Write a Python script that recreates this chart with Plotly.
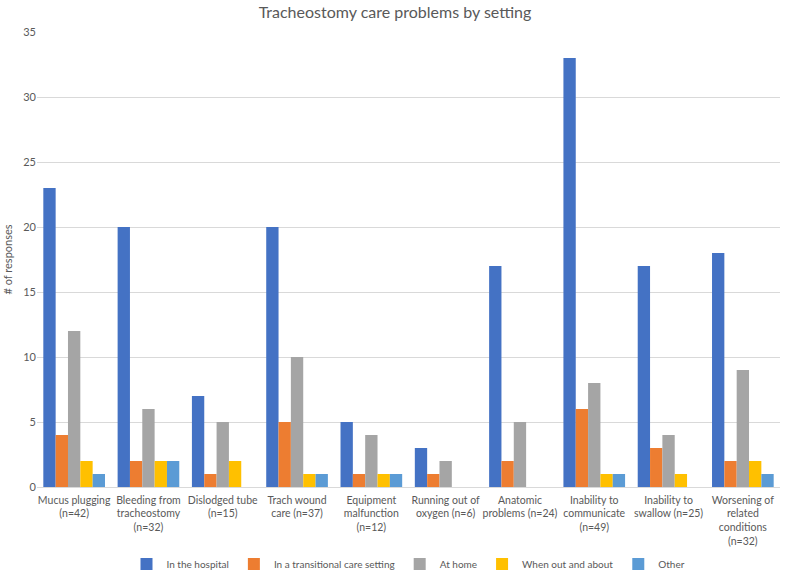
import plotly.graph_objects as go

categories = [
    "Mucus plugging<br>(n=42)",
    "Bleeding from<br>tracheostomy<br>(n=32)",
    "Dislodged tube<br>(n=15)",
    "Trach wound<br>care (n=37)",
    "Equipment<br>malfunction<br>(n=12)",
    "Running out of<br>oxygen (n=6)",
    "Anatomic<br>problems (n=24)",
    "Inability to<br>communicate<br>(n=49)",
    "Inability to<br>swallow (n=25)",
    "Worsening of<br>related<br>conditions<br>(n=32)",
]
in_hospital = [23, 20, 7, 20, 5, 3, 17, 33, 17, 18]
transitional = [4, 2, 1, 5, 1, 1, 2, 6, 3, 2]
at_home = [12, 6, 5, 10, 4, 2, 5, 8, 4, 9]
out_and_about = [2, 2, 2, 1, 1, 0, 0, 1, 1, 2]
other = [1, 2, 0, 1, 1, 0, 0, 1, 0, 1]

series = [
    ("In the hospital", in_hospital, "#4472C4"),
    ("In a transitional care setting", transitional, "#ED7D31"),
    ("At home", at_home, "#A5A5A5"),
    ("When out and about", out_and_about, "#FFC000"),
    ("Other", other, "#5B9BD5"),
]

fig = go.Figure()
for name, vals, color in series:
    fig.add_trace(go.Bar(x=categories, y=vals, name=name, marker_color=color,
                         marker_line_width=0))

font_family = "Lato, Open Sans, sans-serif"
fig.update_layout(
    width=790, height=571,
    barmode="group", bargap=0.17, bargroupgap=0,
    paper_bgcolor="white", plot_bgcolor="white",
    font=dict(family=font_family, size=10.5, color="#595959"),
    title=dict(text="Tracheostomy care problems by setting", x=0.5, xanchor="center",
               y=0.978, yanchor="middle", font=dict(size=16, color="#595959")),
    margin=dict(l=37, r=10, t=32, b=84, autoexpand=False),
    legend=dict(orientation="h", x=0.5, xanchor="center", y=-0.169, yanchor="middle",
                font=dict(size=10, color="#595959"), itemwidth=30, traceorder="normal"),
    xaxis=dict(showline=True, linecolor="#D9D9D9", linewidth=1, tickangle=0,
               tickfont=dict(size=10.5, color="#595959"), ticks="", automargin=False,
               ticklabelstandoff=3),
    yaxis=dict(range=[0, 35], dtick=5, showgrid=True, gridcolor="#D9D9D9",
               zeroline=False, showline=False, ticks="", automargin=False,
               tickfont=dict(size=11, color="#595959"),
               title=dict(text="# of responses", font=dict(size=11, color="#595959"), standoff=8)),
)

fig.write_html("out.html", config={"displayModeBar": False},
               post_script="document.body.style.margin='0';document.body.style.overflow='hidden';")
